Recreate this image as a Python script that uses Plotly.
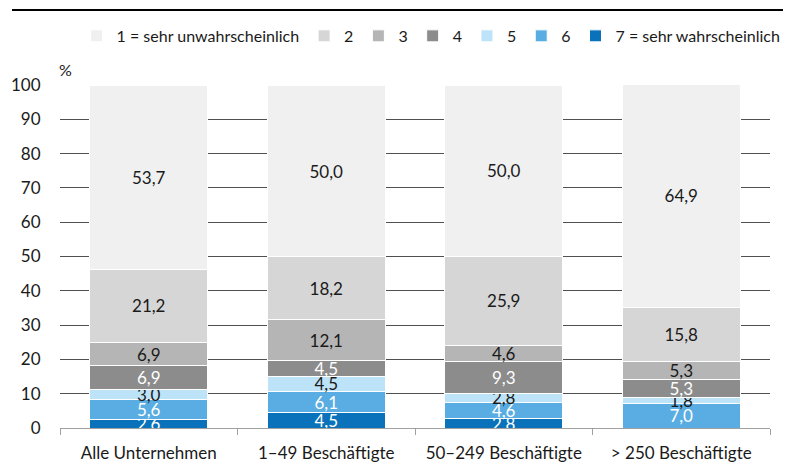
import plotly.graph_objects as go

categories = ["Alle Unternehmen", "1–49 Beschäftigte", "50–249 Beschäftigte", "> 250 Beschäftigte"]
series_names = ["1 = sehr unwahrscheinlich", "2", "3", "4", "5", "6", "7 = sehr wahrscheinlich"]
s1 = [53.7, 50.0, 50.0, 64.9]
s2 = [21.2, 18.2, 25.9, 15.8]
s3 = [6.9, 12.1, 4.6, 5.3]
s4 = [6.9, 4.5, 9.3, 5.3]
s5 = [3.0, 4.5, 2.8, 1.8]
s6 = [5.6, 6.1, 4.6, 7.0]
s7 = [2.6, 4.5, 2.8, 0.0]
series_values = [s1, s2, s3, s4, s5, s6, s7]
colors = ["#f0f0f0", "#d6d6d6", "#b5b5b5", "#8c8c8c", "#bde3f8", "#59ade2", "#0a72ba"]
label_colors = ["#1a1a1a", "#1a1a1a", "#1a1a1a", "#ffffff", "#1a1a1a", "#ffffff", "#ffffff"]

FONT = "Lato"

fig = go.Figure()
# stack from 7 (bottom) to 1 (top)
for i in range(6, -1, -1):
    vals = series_values[i]
    texts = [f"{v:.1f}".replace(".", ",") if v > 0 else "" for v in vals]
    fig.add_trace(go.Bar(
        x=categories, y=vals, name=series_names[i],
        marker=dict(color=colors[i], line=dict(color="#ffffff", width=1)),
        text=texts, textposition="inside", insidetextanchor="middle",
        constraintext="none", textangle=0,
        textfont=dict(family=FONT, size=17, color=label_colors[i]),
        hoverinfo="skip",
    ))

fig.update_layout(
    width=791, height=462,
    barmode="stack", bargap=0.335,
    paper_bgcolor="white", plot_bgcolor="white",
    margin=dict(l=52, r=29, t=77, b=42, autoexpand=False),
    font=dict(family=FONT, size=17, color="#1a1a1a"),
    legend=dict(orientation="h", traceorder="reversed",
                x=1.022, xanchor="right", y=1.143, yanchor="middle",
                font=dict(family=FONT, size=16, color="#1a1a1a"),
                itemwidth=30, bgcolor="rgba(0,0,0,0)"),
    showlegend=True,
)
fig.update_yaxes(range=[0, 100], dtick=10, showgrid=True, gridcolor="#505050", gridwidth=1,
                 zeroline=False, showline=False, ticks="outside", ticklen=15,
                 tickcolor="rgba(0,0,0,0)", tickfont=dict(family=FONT, size=17),
                 automargin=False)
fig.update_xaxes(showline=True, linecolor="#a0a0a0", linewidth=1, ticks="outside",
                 tickson="boundaries", ticklen=6, tickcolor="#a0a0a0",
                 ticklabelstandoff=10,
                 tickfont=dict(family=FONT, size=17), automargin=False)

fig.add_shape(type="line", xref="paper", yref="paper",
              x0=-0.0676, x1=1.05, y0=1.2187, y1=1.2187,
              line=dict(color="#000000", width=2))
fig.add_annotation(text="%", xref="paper", yref="paper", x=-0.004, y=1.044,
                   xanchor="left", yanchor="middle", showarrow=False,
                   font=dict(family=FONT, size=16, color="#1a1a1a"))

fig.write_html("out.html")
